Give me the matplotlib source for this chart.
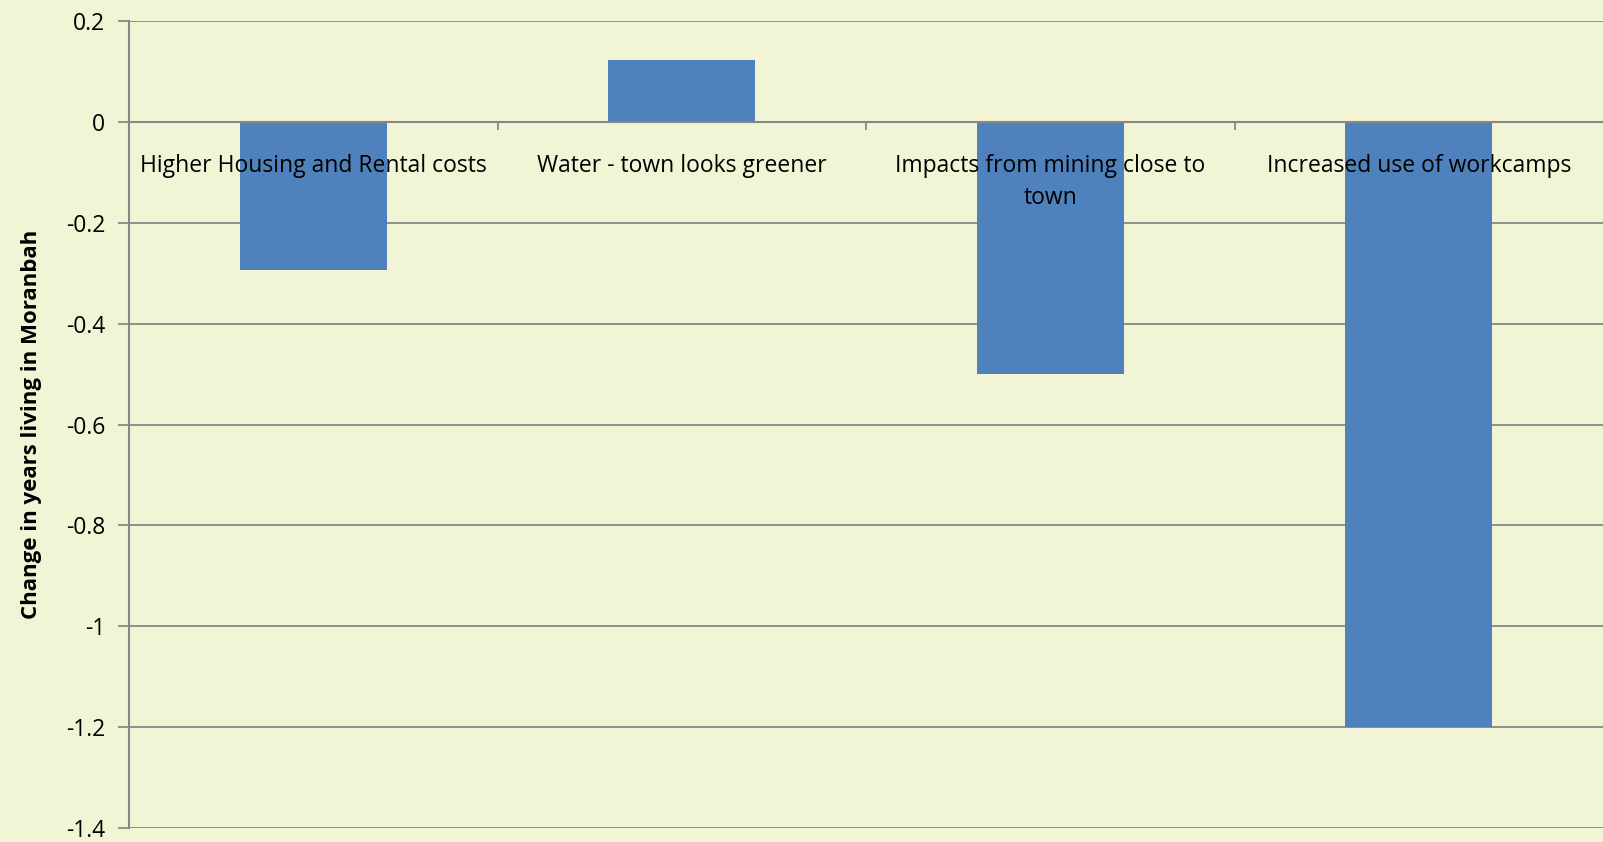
import numpy as np
import matplotlib
matplotlib.use('Agg')
import matplotlib.pyplot as plt

categories = ["Higher Housing and Rental costs", "Water - town looks greener",
              "Impacts from mining close to\ntown", "Increased use of workcamps"]
values = [-0.294, 0.123, -0.5, -1.2]
yticks = [0.2, 0, -0.2, -0.4, -0.6, -0.8, -1, -1.2, -1.4]

bg = "#F1F4D5"
grey = "#878787"
plt.rcParams['font.family'] = ['Open Sans', 'DejaVu Sans']

fig = plt.figure(figsize=(16.03, 8.42), dpi=100, facecolor=bg)
ax = fig.add_axes([129/1603, 14/842, 1474/1603, 807/842], facecolor=bg)

x = np.arange(len(categories))
ax.bar(x, values, width=0.4, color="#4F81BD", zorder=3)
ax.set_xlim(-0.5, len(categories) - 0.5)
ax.set_ylim(-1.4, 0.2)

ax.set_yticks(yticks)
ax.set_yticklabels([f"{v:g}" for v in yticks], fontsize=16.5)
ax.yaxis.grid(True, color=grey, linewidth=1.3, zorder=0)
ax.tick_params(axis='y', length=8, width=1.3, color=grey, pad=9)

# category axis sits on zero
ax.spines['bottom'].set_position(('data', 0))
ax.spines['bottom'].set_color(grey)
ax.spines['bottom'].set_linewidth(1.5)
ax.spines['bottom'].set_zorder(4)
ax.set_xticks(np.arange(len(categories)) - 0.5)
ax.set_xticklabels([])
ax.tick_params(axis='x', direction='out', length=6, width=1.3, color=grey)
for s in ['top', 'right']:
    ax.spines[s].set_visible(False)
ax.spines['left'].set_color(grey)
ax.spines['left'].set_linewidth(1.5)

for i, c in enumerate(categories):
    ax.text(i, -0.064, c, ha='center', va='top', fontsize=16.5, zorder=5,
            linespacing=1.45)

ax.set_ylabel("Change in years living in Moranbah", fontsize=16,
              fontweight='bold', labelpad=17)

fig.savefig("out.png", dpi=100, facecolor=bg)
